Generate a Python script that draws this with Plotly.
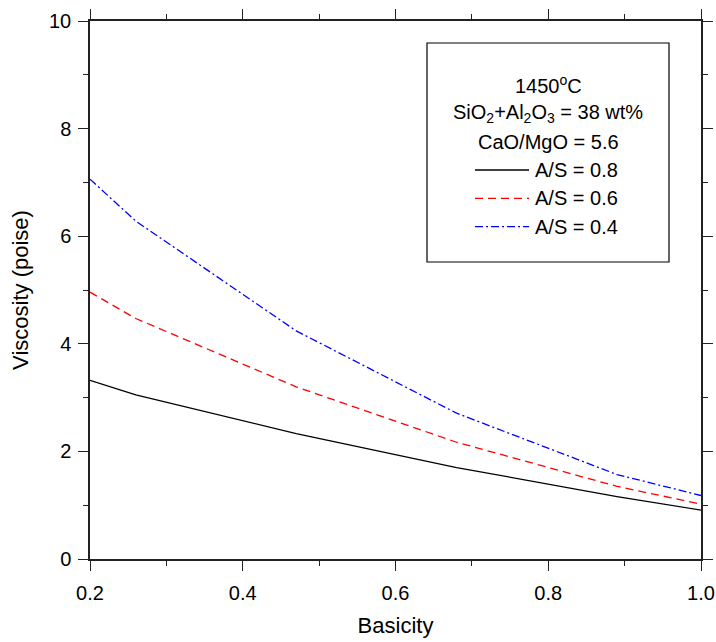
import plotly.graph_objects as go

basicity = [0.2, 0.26, 0.47, 0.68, 0.89, 1.0]
visc_as08 = [3.32, 3.05, 2.33, 1.70, 1.16, 0.91]
visc_as06 = [4.96, 4.47, 3.20, 2.17, 1.35, 1.02]
visc_as04 = [7.06, 6.28, 4.24, 2.71, 1.57, 1.18]
series_names = ["A/S = 0.8", "A/S = 0.6", "A/S = 0.4"]
header_lines = ["1450<sup>o</sup>C",
                "SiO<sub>2</sub>+Al<sub>2</sub>O<sub>3</sub> = 38 wt%",
                "CaO/MgO = 5.6"]

styles = [dict(color="black", dash="solid"),
          dict(color="red", dash="8px,5px"),
          dict(color="blue", dash="8px,3px,2px,3px")]

FONT = "Liberation Sans, Arial, sans-serif"
fig = go.Figure()
for name, ys, st in zip(series_names, [visc_as08, visc_as06, visc_as04], styles):
    fig.add_trace(go.Scatter(x=basicity, y=ys, mode="lines", name=name,
                             line=dict(color=st["color"], dash=st["dash"], width=1.3),
                             showlegend=False))

# legend box (paper coords)
W, H = 716, 642
L, R, T, B = 90, 15, 21, 83
pw, ph = W - L - R, H - T - B
def px(x): return (x - L) / pw
def py(y): return 1 - (y - T) / ph

fig.add_shape(type="rect", xref="paper", yref="paper",
              x0=px(427), x1=px(669), y0=py(262), y1=py(43),
              line=dict(color="black", width=1.2), fillcolor="white", layer="above")
cx = (427 + 669) / 2
for i, t in enumerate(header_lines):
    fig.add_annotation(xref="paper", yref="paper", x=px(cx), y=py(85 + 28.3 * i),
                       text=t, showarrow=False, xanchor="center", yanchor="middle",
                       font=dict(size=20, color="black", family=FONT))
for i, (name, st) in enumerate(zip(series_names, styles)):
    yy = 170 + 28.3 * i
    fig.add_shape(type="line", xref="paper", yref="paper",
                  x0=px(475), x1=px(529), y0=py(yy), y1=py(yy),
                  line=dict(color=st["color"], dash=st["dash"], width=1.3))
    fig.add_annotation(xref="paper", yref="paper", x=px(533), y=py(yy),
                       text=name, showarrow=False, xanchor="left", yanchor="middle",
                       font=dict(size=20, color="black", family=FONT))

axis_common = dict(showline=True, linecolor="#222", linewidth=1.5, mirror="allticks",
                   ticks="outside", ticklen=10, tickwidth=1.3, tickcolor="#222",
                   showgrid=False, zeroline=False,
                   tickfont=dict(size=20, color="black", family=FONT))
fig.update_xaxes(range=[0.2, 1.0], dtick=0.2, tick0=0.2, tickformat=".1f",
                 ticklabelstandoff=5,
                 minor=dict(ticks="outside", ticklen=5, dtick=0.1, tickwidth=1.3, tickcolor="#222"),
                 title=dict(text="Basicity", font=dict(size=22, color="black", family=FONT), standoff=15),
                 **axis_common)
fig.update_yaxes(range=[0, 10], dtick=2, tick0=0,
                 ticklabelstandoff=3,
                 minor=dict(ticks="outside", ticklen=5, dtick=1, tickwidth=1.3, tickcolor="#222"),
                 title=dict(text="Viscosity (poise)", font=dict(size=22, color="black", family=FONT), standoff=14),
                 **axis_common)
fig.update_layout(width=W, height=H, margin=dict(l=L, r=R, t=T, b=B, autoexpand=False),
                  plot_bgcolor="white", paper_bgcolor="white", showlegend=False,
                  font=dict(family=FONT, color="black"))
fig.write_html("out.html")
